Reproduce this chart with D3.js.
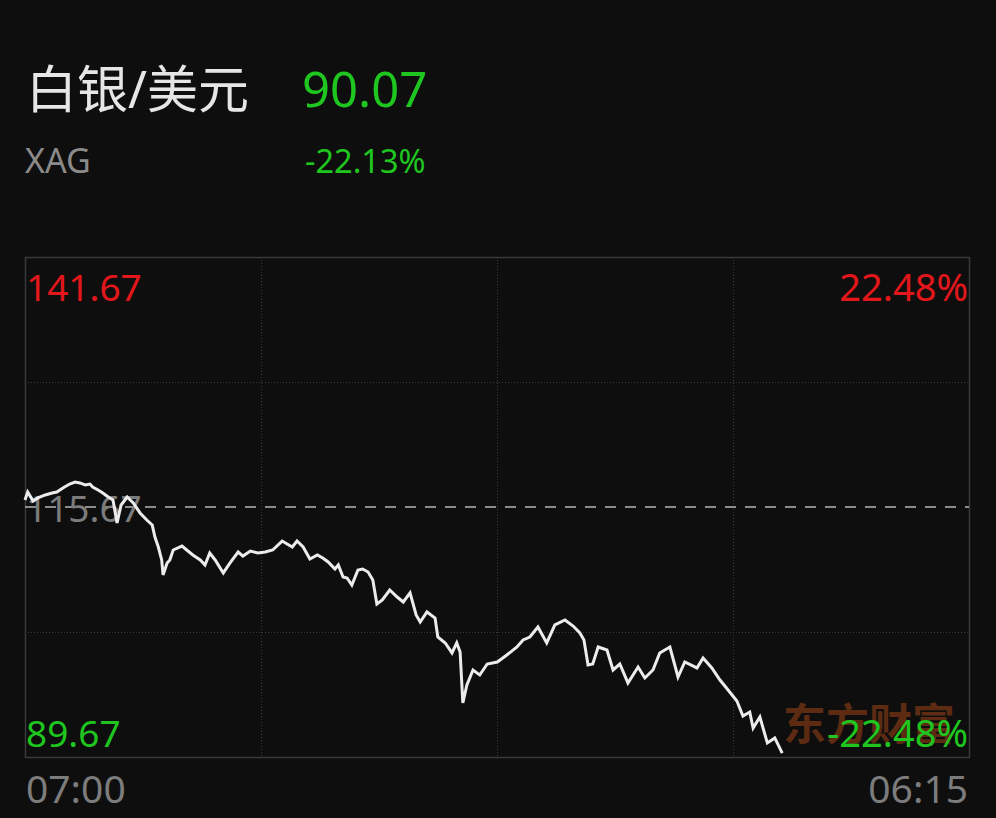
<!DOCTYPE html>
<html>
<head>
<meta charset="utf-8">
<script src="https://cdn.jsdelivr.net/npm/d3@7"></script>
<style>
  html, body { margin: 0; padding: 0; background: #0e0e0e; }
  svg { display: block; }
  text { font-family: "Noto Sans", "Noto Sans CJK SC", sans-serif; }
</style>
</head>
<body>
<svg id="chart" width="996" height="818"></svg>
<script>
// ---- data ----
const title = "白银/美元";
const symbol = "XAG";
const lastPrice = "90.07";
const lastChange = "-22.13%";
const timeLabels = ["07:00", "06:15"];
const sessionMinutes = 1395; // 07:00 -> 06:15 next day
const priceTicks = [141.67, 115.67, 89.67];
const pctTicks = ["22.48%", "-22.48%"];
const watermark = "东方财富";

// minutes since 07:00
const times = [
  0,4,12,19,30,40,47,56,66,74,
  81,89,96,100,108,115,123,130,136,142,
  151,160,170,180,188,192,197,202,204,210,
  214,219,232,239,248,259,266,273,281,293,
  303,315,322,333,344,355,366,380,395,402,
  411,421,432,440,448,458,463,470,476,483,
  492,499,507,514,520,528,539,550,559,569,
  578,584,594,606,610,621,631,638,643,647,
  653,662,672,683,698,712,727,736,746,758,
  771,783,798,810,820,826,832,839,847,860,
  869,879,891,906,916,928,938,953,965,975,
  993,1002,1015,1027,1039,1052,1061,1071,1076,1086,
  1097,1108,1119
];
const prices = [
  116.40,117.23,116.29,116.61,116.92,117.13,117.23,117.65,118.06,118.27,
  118.17,117.96,118.06,117.75,117.44,117.13,116.71,116.40,114.01,115.88,
  116.71,116.09,115.05,114.32,113.80,112.55,111.51,110.16,108.60,109.85,
  110.16,111.20,111.61,111.20,110.68,110.16,109.64,110.89,110.16,108.81,
  109.85,110.99,110.57,111.09,110.89,110.99,111.20,112.13,111.51,112.13,
  111.51,110.26,110.68,110.37,109.95,109.22,109.64,108.39,108.29,107.56,
  109.12,109.22,108.91,108.08,105.58,106.00,107.04,106.31,105.79,106.73,
  104.44,103.71,104.75,104.13,102.15,101.53,100.49,101.53,100.59,95.29,
  97.16,98.72,98.20,99.34,99.55,100.28,101.11,101.84,102.15,103.19,
  101.53,103.40,103.92,103.29,102.57,101.84,99.24,99.34,101.11,100.80,
  98.72,99.34,97.37,99.03,97.89,98.72,100.49,101.11,97.99,99.55,
  98.93,99.97,98.93,97.68,96.64,95.49,93.93,94.35,92.69,93.83,
  91.13,91.65,90.07
];

// ---- drawing ----
(function () {
const svg = d3.select("#chart");
const W = 996, H = 818;
svg.append("rect").attr("width", W).attr("height", H).attr("fill", "#0e0e0e");

const GREEN = "#1fc61f", RED = "#e3171b", GREY = "#7c7c7c";
const pL = 25, pR = 969, pT = 257, pB = 757;

const x = d3.scaleLinear().domain([0, sessionMinutes]).range([pL, pR]);
const y = d3.scaleLinear().domain([priceTicks[2], priceTicks[0]]).range([pB, pT]);

// header
svg.append("text").attr("x", 26).attr("y", 108).attr("fill", "#e6e6e6")
  .attr("font-size", 51).text(title);
svg.append("text").attr("x", 302).attr("y", 107).attr("fill", GREEN)
  .attr("font-size", 49).text(lastPrice);
svg.append("text").attr("x", 25).attr("y", 173).attr("fill", "#8a8a8a")
  .attr("font-size", 34).text(symbol);
svg.append("text").attr("x", 305).attr("y", 173).attr("fill", GREEN)
  .attr("font-size", 32.5).text(lastChange);

// grid
const g = svg.append("g");
const vFrac = [0.25, 0.5, 0.75];
g.selectAll("line.v").data(vFrac).enter().append("line")
  .attr("x1", d => Math.round(x(d * sessionMinutes)) + 0.5)
  .attr("x2", d => Math.round(x(d * sessionMinutes)) + 0.5)
  .attr("y1", pT).attr("y2", pB)
  .attr("stroke", "#3a3a3a").attr("stroke-width", 1).attr("stroke-dasharray", "1,2");
const hVals = [
  (priceTicks[0] + priceTicks[1]) / 2,
  (priceTicks[1] + priceTicks[2]) / 2
];
g.selectAll("line.h").data(hVals).enter().append("line")
  .attr("x1", pL).attr("x2", pR)
  .attr("y1", d => Math.round(y(d)) + 0.5).attr("y2", d => Math.round(y(d)) + 0.5)
  .attr("stroke", "#3a3a3a").attr("stroke-width", 1).attr("stroke-dasharray", "1,2");

// frame
g.append("rect").attr("x", pL + 0.5).attr("y", pT + 0.5)
  .attr("width", pR - pL).attr("height", pB - pT)
  .attr("fill", "none").attr("stroke", "#3a3a3a").attr("stroke-width", 1.5);

// base dashed line
g.append("line").attr("x1", pL).attr("x2", pR)
  .attr("y1", y(priceTicks[1])).attr("y2", y(priceTicks[1]))
  .attr("stroke", "#8c8c8c").attr("stroke-width", 2).attr("stroke-dasharray", "11,9");

// price labels
svg.append("text").attr("x", 26).attr("y", 301).attr("fill", RED)
  .attr("font-size", 37).text(priceTicks[0].toFixed(2));
svg.append("text").attr("x", 26).attr("y", y(priceTicks[1]) + 15).attr("fill", GREY)
  .attr("font-size", 37).text(priceTicks[1].toFixed(2));

// watermark
svg.append("text").attr("x", 783).attr("y", 740).attr("fill", "#5c2b12")
  .attr("font-size", 43).attr("font-weight", "bold")
  .attr("font-family", "\"Noto Sans CJK SC\", sans-serif").text(watermark);

svg.append("text").attr("x", 26).attr("y", 747).attr("fill", GREEN)
  .attr("font-size", 37).text(priceTicks[2].toFixed(2));
svg.append("text").attr("x", 968).attr("y", 301).attr("fill", RED)
  .attr("font-size", 38).attr("text-anchor", "end").text(pctTicks[0]);

// line
const data = times.map((t, i) => ({ t, p: prices[i] }));
const line = d3.line().x(d => x(d.t)).y(d => y(d.p));
svg.append("path").datum(data).attr("d", line)
  .attr("fill", "none").attr("stroke", "#ececec").attr("stroke-width", 3)
  .attr("stroke-linejoin", "miter").attr("stroke-linecap", "butt");

svg.append("text").attr("x", 968).attr("y", 747).attr("fill", GREEN)
  .attr("font-size", 38).attr("text-anchor", "end").text(pctTicks[1]);

// time labels
svg.append("text").attr("x", 26).attr("y", 803).attr("fill", GREY)
  .attr("font-size", 39).text(timeLabels[0]);
svg.append("text").attr("x", 968).attr("y", 803).attr("fill", GREY)
  .attr("font-size", 39).attr("text-anchor", "end").text(timeLabels[1]);
})();
</script>
</body>
</html>
